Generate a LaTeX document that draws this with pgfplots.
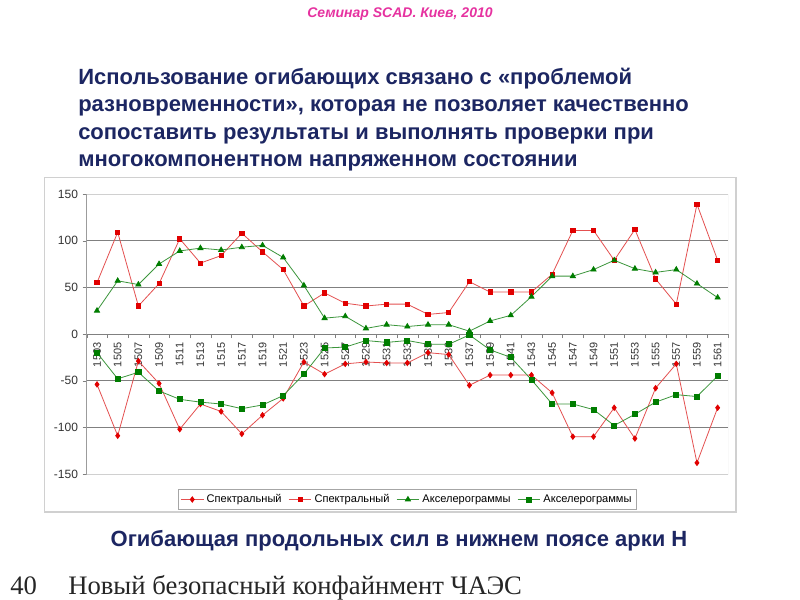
\documentclass[border=0pt]{standalone}
\usepackage{fontspec}
\setmainfont{Liberation Sans}
\newfontfamily\seriffont{Liberation Serif}
\usepackage{pgfplots}
\pgfplotsset{compat=1.18}

\definecolor{titlepink}{RGB}{230,50,160}
\definecolor{navy}{RGB}{28,38,98}
\definecolor{redline}{RGB}{228,80,80}
\definecolor{redmark}{RGB}{225,0,0}
\definecolor{greenline}{RGB}{60,150,60}
\definecolor{greenmark}{RGB}{0,125,0}
\definecolor{framegray}{RGB}{208,208,208}
\definecolor{gridgray}{RGB}{128,128,128}

\newcommand{\slidefont}{\fontsize{16.5pt}{19pt}\selectfont\bfseries}

\begin{document}
\begin{tikzpicture}[x=0.75pt,y=-0.75pt]
% slide, 1 unit = 1 px of the 800x600 reference
\fill[white] (0,0) rectangle (800,600);
\path[use as bounding box] (0,0) rectangle (800,600);

\node[titlepink, font=\fontsize{10.5pt}{12pt}\selectfont\bfseries\itshape] at (400,14) {Семинар SCAD. Киев, 2010};

\node[navy, font=\slidefont, anchor=base west, inner sep=0] at (78,84) {Использование огибающих связано с «проблемой};
\node[navy, font=\slidefont, anchor=base west, inner sep=0] at (78,111.5) {разновременности», которая не позволяет качественно};
\node[navy, font=\slidefont, anchor=base west, inner sep=0] at (78,139) {сопоставить результаты и выполнять проверки при};
\node[navy, font=\slidefont, anchor=base west, inner sep=0] at (78,166.5) {многокомпонентном напряженном состоянии};

% chart frame
\draw[framegray, line width=1.2pt] (44.5,177.5) rectangle (736,512);

\begin{axis}[
    at={(65pt,-355.5pt)}, anchor=south west,
    scale only axis, width=481pt, height=210pt,
    xmin=-0.5, xmax=30.5, ymin=-150, ymax=150,
    axis x line*=middle, axis y line*=left,
    axis line style={gridgray},
    tick align=outside,
    major tick length=3pt, minor tick length=3pt,
    ytick={-150,-100,-50,0,50,100,150},
    xtick={0,...,30},
    xticklabels={1503,1505,1507,1509,1511,1513,1515,1517,1519,1521,1523,1525,1527,1529,1531,1533,1535,1536,1537,1539,1541,1543,1545,1547,1549,1551,1553,1555,1557,1559,1561},
    minor xtick={-0.5,0.5,...,30.5},
    major x tick style={draw=none},
    minor x tick style={gridgray},
    y tick style={gridgray},
    /pgf/number format/assume math mode=true,
    yticklabel style={font=\fontsize{9pt}{10pt}\selectfont, black!80},
    xticklabel style={font=\fontsize{8.2pt}{9pt}\selectfont, black!80, rotate=90, anchor=east},
    legend style={at={(0.5,-0.091)}, anchor=center, legend columns=4,
        draw=gridgray!70, font=\fontsize{8.3pt}{9pt}\selectfont, inner sep=1.5pt,
        /tikz/every even column/.append style={column sep=3pt}},
    legend cell align=left,
]
\draw[framegray] (rel axis cs:0,0) rectangle (rel axis cs:1,1);
\draw[gridgray] (axis cs:-0.5,100) -- (axis cs:30.5,100);
\draw[gridgray] (axis cs:-0.5,50) -- (axis cs:30.5,50);
\draw[gridgray] (axis cs:-0.5,-50) -- (axis cs:30.5,-50);
\draw[gridgray] (axis cs:-0.5,-100) -- (axis cs:30.5,-100);

% Спектральный (нижняя огибающая)
\addplot[redline, line width=0.6pt, mark=diamond*, mark size=2pt,
    mark options={fill=redmark, draw=redmark}] coordinates {
(0,-54) (1,-109) (2,-29) (3,-53) (4,-102) (5,-75) (6,-83) (7,-107) (8,-87) (9,-69)
(10,-30) (11,-43) (12,-32) (13,-30) (14,-31) (15,-31) (16,-20) (17,-22) (18,-55) (19,-44)
(20,-44) (21,-44) (22,-63) (23,-110) (24,-110) (25,-79) (26,-112) (27,-58) (28,-32) (29,-138) (30,-79)};
% Спектральный (верхняя огибающая)
\addplot[redline, line width=0.6pt, mark=square*, mark size=1.6pt,
    mark options={fill=redmark, draw=redmark}] coordinates {
(0,55) (1,109) (2,30) (3,54) (4,102) (5,76) (6,84) (7,108) (8,88) (9,69)
(10,30) (11,44) (12,33) (13,30) (14,32) (15,32) (16,21) (17,23) (18,56) (19,45)
(20,45) (21,45) (22,64) (23,111) (24,111) (25,79) (26,112) (27,59) (28,32) (29,139) (30,79)};
% Акселерограммы (верхняя огибающая)
\addplot[greenline, line width=0.6pt, mark=triangle*, mark size=2.2pt,
    mark options={fill=greenmark, draw=greenmark}] coordinates {
(0,25) (1,57) (2,53) (3,75) (4,89) (5,92) (6,90) (7,93) (8,95) (9,82)
(10,52) (11,17) (12,19) (13,6) (14,10) (15,8) (16,10) (17,10) (18,3) (19,14)
(20,20) (21,40) (22,62) (23,62) (24,69) (25,79) (26,70) (27,66) (28,69) (29,54) (30,39)};
% Акселерограммы (нижняя огибающая)
\addplot[greenline, line width=0.6pt, mark=square*, mark size=1.9pt,
    mark options={fill=greenmark, draw=greenmark}] coordinates {
(0,-20) (1,-48) (2,-41) (3,-61) (4,-70) (5,-73) (6,-75) (7,-80) (8,-76) (9,-66)
(10,-43) (11,-15) (12,-14) (13,-7) (14,-9) (15,-7) (16,-11) (17,-11) (18,-1) (19,-17)
(20,-25) (21,-49) (22,-75) (23,-75) (24,-81) (25,-98) (26,-86) (27,-73) (28,-65) (29,-67) (30,-45)};

\legend{Спектральный, Спектральный, Акселерограммы, Акселерограммы}
\end{axis}

\node[navy, font=\slidefont, anchor=base, inner sep=0] at (399,546) {Огибающая продольных сил в нижнем поясе арки Н};

\node[black!85, font=\seriffont\fontsize{20pt}{22pt}\selectfont, anchor=base west, inner sep=0] at (10,594) {40};
\node[black!85, font=\seriffont\fontsize{20pt}{22pt}\selectfont, anchor=base west, inner sep=0] at (68,594) {Новый безопасный конфайнмент ЧАЭС};
\end{tikzpicture}
\end{document}
